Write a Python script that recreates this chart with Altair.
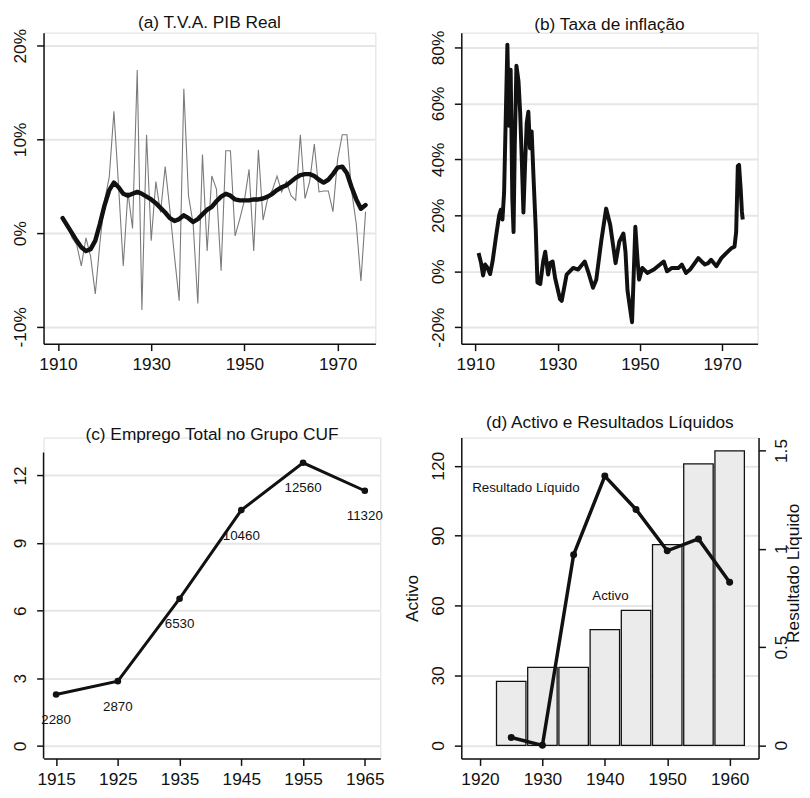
import altair as alt
import pandas as pd

FONT = "Liberation Sans"
GRID = "#e6e6e6"
INK = "#111111"

# ---------------- data ----------------
# (a) T.V.A. PIB Real (annual growth, %) and smoothed trend
gdp_years = list(range(1911, 1977))
gdp_growth = [1.6, 0.9, -0.5, -1.2, -3.5, -0.5, -2.5, -6.5, -1.0, 3.5,
              6.0, 13.0, 5.0, -3.5, 4.4, 0.5, 17.4, -8.2, 10.5, -0.8,
              5.5, 2.2, 7.1, 2.5, -2.5, -7.2, 15.4, 4.0, 1.0, -7.5,
              8.4, -1.9, 6.1, 4.7, -4.0, 8.8, 8.8, -0.3, 1.5, 3.5,
              6.8, -1.9, 8.9, 1.4, 3.7, 4.6, 6.1, 4.4, 5.5, 4.0,
              3.5, 10.5, 3.7, 5.5, 9.5, 4.4, 4.5, 4.5, 2.3, 7.9,
              10.5, 10.5, 4.5, 1.0, -5.1, 2.3]
gdp_trend = [1.6, 0.8, 0.0, -0.8, -1.5, -1.9, -1.7, -0.8, 1.0, 3.0,
             4.6, 5.4, 4.9, 4.2, 4.0, 4.2, 4.4, 4.2, 3.9, 3.6,
             3.2, 2.7, 2.2, 1.6, 1.3, 1.5, 1.9, 1.6, 1.2, 1.5,
             2.0, 2.5, 2.8, 3.4, 3.9, 4.2, 4.0, 3.6, 3.5, 3.5,
             3.5, 3.6, 3.6, 3.7, 3.9, 4.2, 4.6, 4.9, 5.1, 5.5,
             5.9, 6.2, 6.3, 6.3, 6.1, 5.7, 5.4, 5.7, 6.3, 7.0,
             7.1, 6.4, 4.9, 3.6, 2.6, 3.0]

# (b) Taxa de inflação (%)
infl_years = [1910.8, 1911.4, 1911.9, 1912.4, 1913.0, 1913.6, 1914.2, 1915.0, 1915.8, 1916.2,
              1916.6, 1917.0, 1917.3, 1917.8, 1918.2, 1918.6, 1919.0, 1919.3, 1919.6, 1920.0,
              1920.5, 1920.9, 1921.3, 1921.7, 1922.1, 1922.5, 1922.9, 1923.3, 1923.7, 1924.2,
              1924.7, 1925.1, 1925.8, 1926.5, 1927.0, 1927.7, 1928.2, 1928.8, 1929.4, 1930.6,
              1931.0, 1932.2, 1933.8, 1935.0, 1936.6, 1937.4, 1938.6, 1939.4, 1940.6, 1941.8,
              1942.8, 1944.1, 1945.0, 1946.0, 1946.5, 1947.0, 1948.1, 1948.5, 1948.9, 1949.4,
              1949.8, 1950.6, 1951.8, 1953.4, 1955.8, 1956.6, 1957.8, 1959.4, 1960.2, 1961.2,
              1962.2, 1964.2, 1965.0, 1965.8, 1966.6, 1967.3, 1968.6, 1969.8, 1971.0, 1972.2,
              1973.0, 1973.4, 1973.8, 1974.1, 1974.5, 1974.8, 1975.0]
infl_rate = [6.5, 3.0, -1.5, 2.4, 1.2, -1.0, 3.5, 12.0, 20.0, 22.0,
             18.5, 28.0, 48.0, 81.0, 52.0, 72.0, 26.0, 14.0, 45.0, 73.5,
             68.0, 57.0, 40.0, 21.0, 38.0, 53.0, 57.0, 44.0, 50.0, 32.0,
             15.0, -4.0, -4.5, 3.5, 7.0, -1.2, 3.0, 3.5, -2.4, -10.0,
             -10.6, -1.2, 1.2, 0.6, 3.5, 0.0, -5.9, -3.0, 10.6, 22.4,
             16.5, 2.9, 10.6, 13.5, 7.0, -7.0, -18.2, -1.2, 15.9, 4.7,
             -3.0, 1.2, -0.6, 0.6, 3.5, 0.0, 1.2, 1.2, 2.4, -0.6,
             0.6, 4.7, 3.5, 2.4, 2.9, 4.1, 1.8, 4.7, 6.5, 8.2,
             8.8, 14.0, 37.6, 38.0, 29.4, 21.2, 18.5]

# (c) Emprego Total no Grupo CUF
emp_years = [1915, 1925, 1935, 1945, 1955, 1965]
emp_total = [2280, 2870, 6530, 10460, 12560, 11320]

# (d) Activo e Resultados Líquidos
cuf_years = [1925, 1930, 1935, 1940, 1945, 1950, 1955, 1960]
activo = [27.5, 33.5, 33.5, 49.7, 57.9, 86.2, 120.8, 126.4]
resultado = [0.04, 0.0, 0.97, 1.37, 1.20, 0.99, 1.05, 0.83]
d_note_labels = ["Resultado Líquido", "Activo"]
d_note_years = [1927.35, 1940.9]
d_note_values = [110.5, 64.3]

# ---------------- scales ----------------
A_X = [1906.9, 1978.1]
A_Y = [-11.8, 21.4]
B_X = [1906.6, 1978.6]
B_Y = [-25.9, 85.3]
C_X = [1912.97, 1967.51]
C_Y = [-0.56, 13.68]
C_AXIS_TOP = 13.02
D_X = [1917.0, 1964.63]
D_YL = [-5.6, 132.1]
D_YR = [-0.067, 1.566]
D_HALF = 2.36


def xaxis(vals):
    return alt.Axis(values=vals, format="d", title=None, grid=False,
                    domainColor=INK, domainWidth=1.5, tickColor=INK, tickWidth=1.5,
                    tickSize=7, labelFont=FONT, labelFontSize=17.5, labelColor=INK,
                    labelPadding=5, labelFlush=False, labelOverlap=False)


def yaxis(vals, orient="left", grid=True, expr=None, **extra):
    kw = dict(values=vals, orient=orient, grid=grid,
              domainColor=INK, domainWidth=1.5, tickColor=INK, tickWidth=1.5,
              tickSize=7, labelFont=FONT, labelFontSize=17.5, labelColor=INK,
              labelAngle=270, labelAlign="center",
              labelBaseline="bottom" if orient == "left" else "top",
              labelPadding=7, labelFlush=False, labelOverlap=False,
              titleFont=FONT, titleFontSize=17.5, titleFontWeight="normal",
              titleColor=INK)
    if grid:
        kw.update(gridColor=GRID, gridWidth=2)
    if expr:
        kw["labelExpr"] = expr
    kw.update(extra)
    if "title" not in kw:
        kw["title"] = None
    return alt.Axis(**kw)


def ttl(text, offset):
    return alt.TitleParams(text, font=FONT, fontSize=17.5, fontWeight="normal",
                           color=INK, anchor="middle", frame="group",
                           offset=offset, baseline="bottom")


# ---------------- (a) ----------------
df_a = pd.DataFrame({"year": gdp_years, "growth": gdp_growth, "trend": gdp_trend})
a_thin = alt.Chart(df_a).mark_line(color="#7a7a7a", strokeWidth=1.1).encode(
    x=alt.X("year:Q", scale=alt.Scale(domain=A_X, nice=False, zero=False),
            axis=xaxis([1910, 1930, 1950, 1970])),
    y=alt.Y("growth:Q", scale=alt.Scale(domain=A_Y, nice=False, zero=False),
            axis=yaxis([-10, 0, 10, 20], expr="datum.value + '%'")),
)
a_thick = alt.Chart(df_a).mark_line(color=INK, strokeWidth=4.5, strokeJoin="round",
                                    strokeCap="round").encode(
    x=alt.X("year:Q"), y=alt.Y("trend:Q"))
chart_a = alt.layer(a_thin, a_thick).properties(
    width=336, height=315, title=ttl("(a) T.V.A. PIB Real", -21))

# ---------------- (b) ----------------
df_b = pd.DataFrame({"year": infl_years, "rate": infl_rate})
chart_b = alt.Chart(df_b).mark_line(color=INK, strokeWidth=4, strokeJoin="round").encode(
    x=alt.X("year:Q", scale=alt.Scale(domain=B_X, nice=False, zero=False),
            axis=xaxis([1910, 1930, 1950, 1970])),
    y=alt.Y("rate:Q", scale=alt.Scale(domain=B_Y, nice=False, zero=False),
            axis=yaxis([-20, 0, 20, 40, 60, 80], expr="datum.value + '%'")),
).properties(width=300, height=315, title=ttl("(b) Taxa de inflação", -21))

# ---------------- (c) ----------------
df_c = pd.DataFrame({"year": emp_years, "emp": emp_total})
c_base = alt.Chart(df_c).transform_calculate(k="datum.emp / 1000")
c_x = alt.X("year:Q", scale=alt.Scale(domain=C_X, nice=False, zero=False),
            axis=xaxis([1915, 1925, 1935, 1945, 1955, 1965]))
c_y = alt.Y("k:Q", scale=alt.Scale(domain=C_Y, nice=False, zero=False),
            axis=yaxis([0, 3, 6, 9, 12], domain=False))
c_line = c_base.mark_line(color=INK, strokeWidth=3).encode(x=c_x, y=c_y)
c_pts = c_base.mark_point(filled=True, color=INK, size=45, opacity=1).encode(
    x="year:Q", y="k:Q")
c_txt = c_base.mark_text(dy=26, font=FONT, fontSize=13.5, color=INK).encode(
    x="year:Q", y="k:Q", text=alt.Text("emp:Q", format="d"))
c_axisline = alt.Chart(pd.DataFrame({"k0": [0]})).mark_rule(
    color=INK, strokeWidth=1.5).encode(
    x=alt.datum(C_X[0]), y=alt.datum(C_Y[0]), y2=alt.datum(C_AXIS_TOP))
chart_c = alt.layer(c_line, c_pts, c_txt, c_axisline).properties(
    width=341, height=325, title=ttl("(c) Emprego Total no Grupo CUF", -24))

# ---------------- (d) ----------------
df_d = pd.DataFrame({"year": cuf_years, "activo": activo, "res": resultado})
d_bars = alt.Chart(df_d).transform_calculate(
    x0=f"datum.year - {D_HALF}", x1=f"datum.year + {D_HALF}"
).mark_bar(fill="#ebebeb", stroke=INK, strokeWidth=1.3).encode(
    x=alt.X("x0:Q", scale=alt.Scale(domain=D_X, nice=False, zero=False),
            axis=xaxis([1920, 1930, 1940, 1950, 1960])),
    x2="x1:Q",
    y=alt.Y("activo:Q", scale=alt.Scale(domain=D_YL, nice=False, zero=False),
            axis=yaxis([0, 30, 60, 90, 120], title="Activo", titlePadding=8)),
    y2=alt.datum(0),
)
df_notes = pd.DataFrame({"label": d_note_labels, "year": d_note_years, "val": d_note_values})
d_notes = alt.Chart(df_notes).mark_text(font=FONT, fontSize=13.5, color=INK).encode(
    x=alt.X("year:Q"), y=alt.Y("val:Q"), text="label:N")
d_line = alt.Chart(df_d).mark_line(color=INK, strokeWidth=3.5).encode(
    x=alt.X("year:Q"),
    y=alt.Y("res:Q", scale=alt.Scale(domain=D_YR, nice=False, zero=False),
            axis=yaxis([0, 0.5, 1, 1.5], orient="right", grid=False,
                       expr="'' + datum.value",
                       title="Resultado Líquido", titleAngle=270, titleX=35,
                       titleY=137, titleAlign="center", titleBaseline="middle")),
)
d_pts = alt.Chart(df_d).mark_point(filled=True, color=INK, size=50, opacity=1).encode(
    x="year:Q", y="res:Q")
d_left = alt.layer(d_bars, d_notes)
d_right = alt.layer(d_line, d_pts)
chart_d = alt.layer(d_left, d_right).resolve_scale(y="independent").properties(
    width=301, height=325, title=ttl("(d) Activo e Resultados Líquidos", -12))

# ---------------- layout ----------------
chart = alt.concat(
    chart_a, chart_b, chart_c, chart_d,
    columns=2, spacing={"row": 95, "column": 82}, bounds="flush", align="none",
).properties(
    padding={"left": 3, "top": 0, "right": 0, "bottom": 0}
).configure_view(stroke=None).configure(background="white", font=FONT)

chart.save("out.html", embed_options={"renderer": "svg", "actions": False})
